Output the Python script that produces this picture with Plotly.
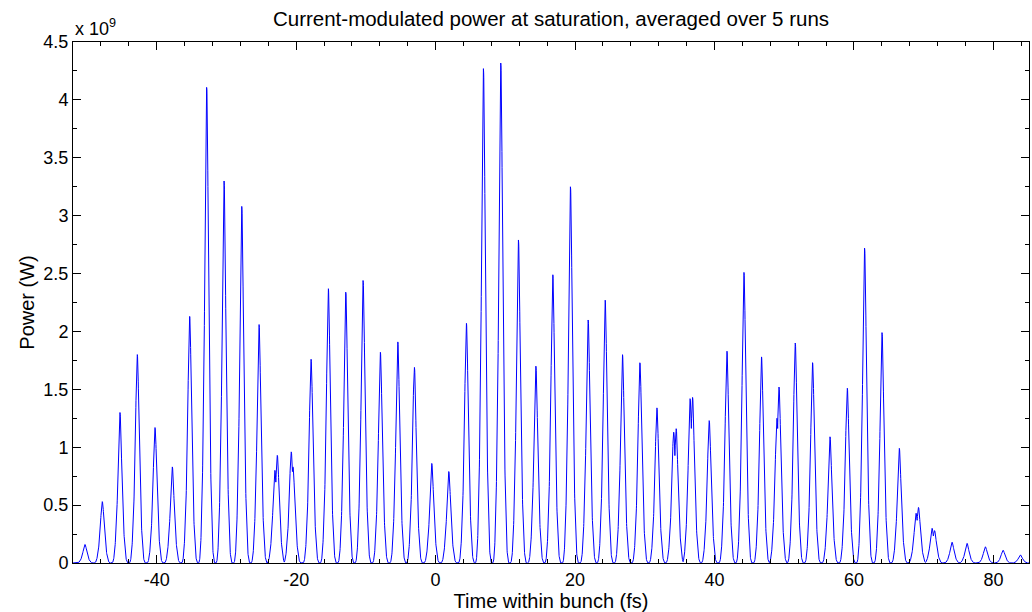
import numpy as np
import plotly.graph_objects as go

# ---- data (time in fs, power in units of 1e9 W) ----
peak_time_fs = [-50.29, -47.80, -45.27, -42.78, -40.24, -37.76, -35.27, -32.83,
                -30.34, -27.80, -25.32, -23.05, -20.45, -17.86, -15.38, -12.88,
                -10.40, -7.92, -5.42, -3.04, -0.55, 1.89, 4.42, 6.86,
                9.35, 11.88, 14.38, 16.81, 19.34, 21.88, 24.32, 26.80,
                29.30, 31.74, 34.15, 36.50, 39.24, 41.78, 44.22, 46.74,
                48.95, 51.58, 54.06, 56.56, 59.04, 61.52, 64.02, 66.50,
                68.90, 71.20, 74.06, 76.21, 78.84, 81.38, 83.86]
peak_power_e9 = [0.16, 0.53, 1.30, 1.80, 1.17, 0.83, 2.13, 4.11,
                 3.30, 3.08, 2.06, 0.80, 0.83, 1.76, 2.37, 2.34,
                 2.44, 1.82, 1.91, 1.69, 0.86, 0.79, 2.07, 4.27,
                 4.32, 2.79, 1.70, 2.49, 3.25, 2.10, 2.27, 1.80,
                 1.73, 1.34, 1.13, 1.42, 1.23, 1.83, 2.51, 1.78,
                 1.25, 1.90, 1.73, 1.09, 1.51, 2.72, 1.99, 0.99,
                 0.43, 0.30, 0.18, 0.17, 0.14, 0.11, 0.07]

# secondary tips seen on split peaks
spike_time_fs = [-22.70, -20.70, 34.50, 36.85, 49.25, 69.25, 71.55]
spike_power_e9 = [0.93, 0.96, 1.16, 1.43, 1.52, 0.48, 0.28]

x_ticks = [-40, -20, 0, 20, 40, 60, 80]
x_tick_text = ["-40", "-20", "0", "20", "40", "60", "80"]

# ---- pulse shape (narrow spike on a broad base that returns to zero) ----
HALF_PERIOD = 1.24   # fs
SPIKE_FRAC = 0.45
SPIKE_S = 0.22       # in units of HALF_PERIOD
BASE_N = 3.5

t = np.linspace(-52.0, 85.1, 8000)


def pulse(tt, t0, h, half):
    u = np.abs((tt - t0) / half)
    uc = np.clip(u, 0, 1)
    shape = SPIKE_FRAC * np.exp(-(uc / SPIKE_S) ** 2) + \
        (1 - SPIKE_FRAC) * np.cos(np.pi * uc / 2) ** BASE_N
    return np.where(u < 1, shape, 0.0) * h


power = np.zeros_like(t)
for t0, h in zip(peak_time_fs, peak_power_e9):
    power += pulse(t, t0, h, HALF_PERIOD)
for t0, h in zip(spike_time_fs, spike_power_e9):
    power = np.maximum(power, pulse(t, t0, h, HALF_PERIOD))

FONT = "Liberation Sans, Arial, sans-serif"

fig = go.Figure()
fig.add_trace(go.Scatter(
    x=t, y=power, mode="lines",
    line=dict(color="#0000ff", width=1),
    hoverinfo="skip", showlegend=False,
))

axis_common = dict(
    showline=True, linecolor="black", linewidth=1, mirror="allticks",
    ticks="inside", ticklen=8, tickwidth=1, tickcolor="black",
    showgrid=False, zeroline=False,
    tickfont=dict(family=FONT, size=18, color="black"),
)

fig.update_layout(
    width=1032, height=612,
    margin=dict(l=73, r=3, t=42, b=49),
    paper_bgcolor="white", plot_bgcolor="white",
    font=dict(family=FONT, color="black"),
    title=dict(
        text="Current-modulated power at saturation, averaged over 5 runs",
        x=0.5, xref="paper", xanchor="center",
        y=1 - 19 / 612, yref="container", yanchor="middle",
        font=dict(family=FONT, size=20.5, color="black"),
    ),
    xaxis=dict(
        range=[-52.0, 85.1],
        tickvals=x_ticks, ticktext=x_tick_text,
        minor=dict(ticks="inside", ticklen=4, tick0=0, dtick=4, tickcolor="black", showgrid=False),
        title=dict(text="Time within bunch (fs)", standoff=0,
                   font=dict(family=FONT, size=20, color="black")),
        **axis_common,
    ),
    yaxis=dict(
        range=[0, 4.5], tick0=0, dtick=0.5,
        minor=dict(ticks="inside", ticklen=4, tick0=0, dtick=0.25, tickcolor="black", showgrid=False),
        title=dict(text="Power (W)", standoff=3,
                   font=dict(family=FONT, size=20, color="black")),
        **axis_common,
    ),
    annotations=[dict(
        text="x 10<sup>9</sup>", xref="paper", yref="paper",
        x=0, y=1, xanchor="left", yanchor="bottom", yshift=1,
        showarrow=False, font=dict(family=FONT, size=18, color="black"),
    )],
)

fig.write_html("out.html")
